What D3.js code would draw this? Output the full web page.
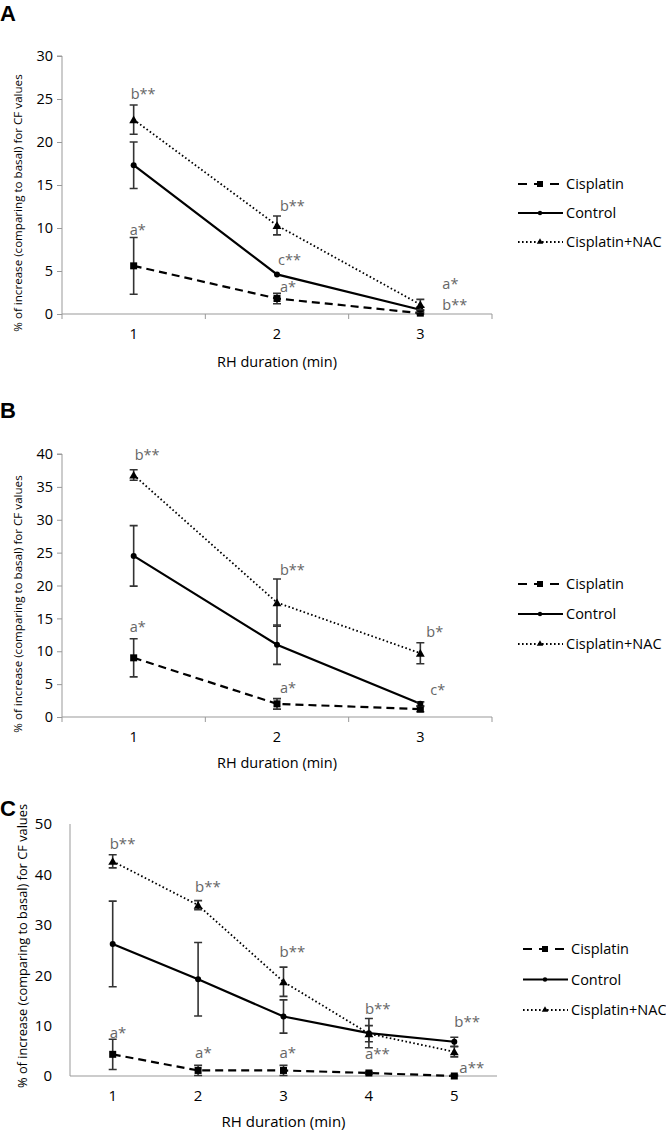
<!DOCTYPE html>
<html>
<head>
<meta charset="utf-8">
<script src="https://cdn.jsdelivr.net/npm/d3@7"></script>
<style>
  body { margin: 0; background: #fff; }
  svg { display: block; font-family: "Open Sans", sans-serif; }
</style>
</head>
<body>
<svg id="chart" width="666" height="1131"></svg>
<script>
// ---------- DATA ----------
const seriesNames = ["Cisplatin", "Control", "Cisplatin+NAC"];

const categoriesA = ["1", "2", "3"];
const yTicksA = [0, 5, 10, 15, 20, 25, 30];
const cisplatinA = [5.6, 1.8, 0.1];
const cisplatinErrA = [3.3, 0.6, 0.3];
const controlA = [17.3, 4.6, 0.5];
const controlErrA = [2.7, 0.0, 0.3];
const nacA = [22.6, 10.3, 1.1];
const nacErrA = [1.7, 1.1, 0.6];
const annotA = [["1", "b**", 25.0], ["1", "a*", 9.2], ["2", "b**", 12.0], ["2", "c**", 5.7], ["2", "a*", 2.6], ["3", "a*", 2.9], ["3", "b**", 0.5]];

const categoriesB = ["1", "2", "3"];
const yTicksB = [0, 5, 10, 15, 20, 25, 30, 35, 40];
const cisplatinB = [9.0, 2.0, 1.2];
const cisplatinErrB = [2.9, 0.8, 0.4];
const controlB = [24.5, 11.0, 2.0];
const controlErrB = [4.6, 3.0, 0.3];
const nacB = [36.8, 17.4, 9.7];
const nacErrB = [0.8, 3.6, 1.6];
const annotB = [["1", "b**", 39.1], ["1", "a*", 13.0], ["2", "b**", 21.6], ["2", "a*", 3.6], ["3", "b*", 12.2], ["3", "c*", 3.3]];

const categoriesC = ["1", "2", "3", "4", "5"];
const yTicksC = [0, 10, 20, 30, 40, 50];
const cisplatinC = [4.3, 1.1, 1.1, 0.6, 0.0];
const cisplatinErrC = [3.0, 1.0, 1.0, 0.2, 0.2];
const controlC = [26.2, 19.2, 11.8, 8.5, 6.8];
const controlErrC = [8.5, 7.3, 3.3, 2.9, 0.9];
const nacC = [42.6, 33.9, 18.7, 8.4, 4.8];
const nacErrC = [1.3, 0.9, 2.9, 1.6, 1.0];
const annotC = [["1", "b**", 45.0], ["1", "a*", 7.5], ["2", "b**", 36.6], ["2", "a*", 3.5], ["3", "b**", 23.7], ["3", "a*", 3.5], ["4", "b**", 12.4], ["4", "a**", 3.3], ["5", "b**", 9.8], ["5", "a**", 0.5]];

const xTitle = "RH duration (min)";
const yTitle = "% of increase (comparing to basal) for CF values";

// ---------- STYLES ----------
const styles = {
  "Cisplatin": { dash: "8,5", width: 2.2, marker: "square" },
  "Control": { dash: null, width: 2.2, marker: "circle" },
  "Cisplatin+NAC": { dash: "1.6,2.4", width: 1.8, marker: "triangle" }
};

const svg = d3.select("#chart");

function drawMarker(g, type, x, y) {
  if (type === "square") {
    g.append("rect").attr("x", x - 3.5).attr("y", y - 3.5).attr("width", 7).attr("height", 7).attr("fill", "#000");
  } else if (type === "circle") {
    g.append("circle").attr("cx", x).attr("cy", y).attr("r", 3).attr("fill", "#000");
  } else {
    g.append("path").attr("d", d3.symbol(d3.symbolTriangle, 34)()).attr("transform", `translate(${x},${y + 1})`).attr("fill", "#000");
  }
}

function drawPanel(cfg) {
  const g = svg.append("g");
  const x = d3.scaleBand().domain(cfg.categories).range([cfg.left, cfg.right]);
  const y = d3.scaleLinear().domain([0, d3.max(cfg.yTicks)]).range([cfg.bottom, cfg.top]);
  const cx = c => x(c) + x.bandwidth() / 2;

  // panel letter
  g.append("text").attr("x", 0).attr("y", cfg.letterY).attr("font-size", 22).attr("font-weight", "bold")
    .attr("font-family", "'Liberation Sans', Arial, sans-serif").text(cfg.letter);

  // y axis
  const yAxis = d3.axisLeft(y).tickValues(cfg.yTicks).tickSize(cfg.yTickLen).tickPadding(cfg.yPad);
  const ya = g.append("g").attr("transform", `translate(${cfg.left},0)`).call(yAxis);
  ya.select(".domain").attr("stroke", "#999").attr("d", `M${-cfg.yTickLen},${cfg.top}H0V${cfg.bottom}`);
  ya.selectAll(".tick line").attr("stroke", "#999");
  ya.selectAll(".tick text").attr("font-size", cfg.tickFont).attr("fill", "#000").attr("font-family", "'Open Sans', sans-serif");

  // x axis
  const xAxis = d3.axisBottom(x).tickSize(0).tickPadding(cfg.xPad);
  const xa = g.append("g").attr("transform", `translate(0,${cfg.bottom})`).call(xAxis);
  xa.select(".domain").attr("stroke", "#999").attr("d", `M${cfg.left},0H${cfg.right}`);
  xa.selectAll(".tick text").attr("font-size", cfg.tickFont).attr("fill", "#000").attr("font-family", "'Open Sans', sans-serif");
  if (cfg.xTickLen > 0) {
    const bounds = cfg.categories.map(c => x(c)).concat([cfg.right]);
    xa.selectAll("line.bnd").data(bounds).join("line").attr("class", "bnd")
      .attr("x1", d => d).attr("x2", d => d).attr("y1", 0).attr("y2", cfg.xTickLen).attr("stroke", "#999");
  }

  // axis titles
  g.append("text").attr("x", (cfg.left + cfg.right) / 2).attr("y", cfg.xTitleY).attr("text-anchor", "middle")
    .attr("font-size", cfg.titleFont).text(xTitle);
  g.append("text").attr("transform", `translate(${cfg.yTitleX},${cfg.yTitleY}) rotate(-90)`).attr("text-anchor", "middle")
    .attr("font-size", cfg.yTitleFont).text(yTitle);

  // series
  const series = [
    { name: "Cisplatin", values: cfg.cis, errs: cfg.cisErr },
    { name: "Control", values: cfg.con, errs: cfg.conErr },
    { name: "Cisplatin+NAC", values: cfg.nac, errs: cfg.nacErr }
  ];
  const line = d3.line().x(d => cx(d.c)).y(d => y(d.v));
  series.forEach(s => {
    const pts = cfg.categories.map((c, i) => ({ c, v: s.values[i], e: s.errs[i] }));
    const st = styles[s.name];
    g.append("path").datum(pts).attr("d", line).attr("fill", "none").attr("stroke", "#000")
      .attr("stroke-width", st.width).attr("stroke-dasharray", st.dash);
    pts.forEach(p => {
      if (p.e > 0) {
        const xx = cx(p.c), y1 = y(p.v + p.e), y0 = y(Math.max(p.v - p.e, 0));
        g.append("path").attr("d", `M${xx - 4},${y1}H${xx + 4}M${xx},${y1}V${y0}M${xx - 4},${y0}H${xx + 4}`)
          .attr("stroke", "#333").attr("stroke-width", 1.6).attr("fill", "none");
      }
      drawMarker(g, st.marker, cx(p.c), y(p.v));
    });
  });

  // annotations
  cfg.annot.forEach((a, i) => {
    g.append("text").attr("x", cx(a[0]) + cfg.annotDx[i]).attr("y", y(a[2]))
      .attr("font-size", cfg.annotFont).attr("fill", "#666").text(a[1]);
  });

  // legend
  seriesNames.forEach((n, i) => {
    const st = styles[n];
    const ly = cfg.legendY + i * cfg.legendGap;
    g.append("line").attr("x1", cfg.legendX).attr("x2", cfg.legendX + 45).attr("y1", ly).attr("y2", ly)
      .attr("stroke", "#000").attr("stroke-width", st.width).attr("stroke-dasharray", n === "Cisplatin" ? "9,7" : st.dash);
    if (st.marker === "square") {
      g.append("rect").attr("x", cfg.legendX + 19).attr("y", ly - 3).attr("width", 6).attr("height", 6).attr("fill", "#000");
    } else if (st.marker === "circle") {
      g.append("circle").attr("cx", cfg.legendX + 22).attr("cy", ly).attr("r", 2.2).attr("fill", "#000");
    } else {
      g.append("path").attr("d", d3.symbol(d3.symbolTriangle, 18)()).attr("transform", `translate(${cfg.legendX + 22},${ly})`).attr("fill", "#000");
    }
    g.append("text").attr("x", cfg.legendX + 48).attr("y", ly).attr("dy", "0.35em")
      .attr("font-size", cfg.legendFont).text(n);
  });
}

drawPanel({
  letter: "A", letterY: 21,
  categories: categoriesA, yTicks: yTicksA,
  cis: cisplatinA, cisErr: cisplatinErrA, con: controlA, conErr: controlErrA, nac: nacA, nacErr: nacErrA,
  annot: annotA, annotDx: [-3, -4, 3, 1, 3, 22, 22],
  left: 62, right: 492, top: 56, bottom: 314,
  yTickLen: 5, yPad: 4, xTickLen: 5, xPad: 15, tickFont: 14.5,
  xTitleY: 367, titleFont: 14.5,
  yTitleX: 22, yTitleY: 203, yTitleFont: 11.6,
  annotFont: 14.5,
  legendX: 518, legendY: 184, legendGap: 29, legendFont: 14.5
});

drawPanel({
  letter: "B", letterY: 418,
  categories: categoriesB, yTicks: yTicksB,
  cis: cisplatinB, cisErr: cisplatinErrB, con: controlB, conErr: controlErrB, nac: nacB, nacErr: nacErrB,
  annot: annotB, annotDx: [1, -4, 3, 3, 6, 10],
  left: 62, right: 492, top: 454, bottom: 717,
  yTickLen: 5, yPad: 4, xTickLen: 5, xPad: 15, tickFont: 14.5,
  xTitleY: 768, titleFont: 14.5,
  yTitleX: 22, yTitleY: 604, yTitleFont: 11.6,
  annotFont: 14.5,
  legendX: 518, legendY: 584, legendGap: 30, legendFont: 14.5
});

drawPanel({
  letter: "C", letterY: 816,
  categories: categoriesC, yTicks: yTicksC,
  cis: cisplatinC, cisErr: cisplatinErrC, con: controlC, conErr: controlErrC, nac: nacC, nacErr: nacErrC,
  annot: annotC, annotDx: [-3, -3, -3, -3, -4, -4, -4, -4, 0, 5],
  left: 70, right: 497, top: 824, bottom: 1076,
  yTickLen: 0, yPad: 18, xTickLen: 0, xPad: 14, tickFont: 15,
  xTitleY: 1127, titleFont: 15,
  yTitleX: 27, yTitleY: 946, yTitleFont: 12.8,
  annotFont: 15,
  legendX: 523, legendY: 949, legendGap: 30.5, legendFont: 14.5
});
</script>
</body>
</html>
